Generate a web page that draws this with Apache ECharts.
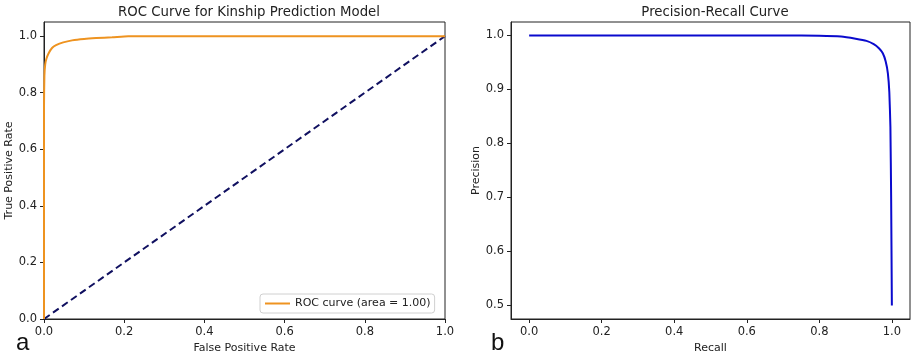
<!DOCTYPE html>
<html>
<head>
<meta charset="utf-8">
<script src="https://cdn.jsdelivr.net/npm/echarts@6/dist/echarts.min.js"></script>
<style>
  html, body { margin: 0; padding: 0; background: #fff; }
  #chart { width: 913px; height: 355px; }
</style>
</head>
<body>
<div id="chart"></div>
<script>
// ROC curve (left panel)
const rocFpr = [0, 0, 0.001, 0.003, 0.006, 0.011, 0.02, 0.03, 0.048, 0.07, 0.1, 0.13, 0.17, 0.21, 1]
const rocTpr = [0, 0.75, 0.86, 0.9, 0.92, 0.938, 0.958, 0.968, 0.978, 0.985, 0.99, 0.993, 0.996, 1, 1]
const chanceLine = [[0, 0], [1, 1]]
const rocTicksX = [0, 0.2, 0.4, 0.6, 0.8, 1.0]
const rocTicksY = [0, 0.2, 0.4, 0.6, 0.8, 1.0]

// precision-recall curve (right panel)
const prRecall = [0, 0.5, 0.7, 0.8, 0.86, 0.9, 0.93, 0.95, 0.965, 0.975, 0.983, 0.989, 0.993, 0.996, 0.998, 1.0]
const prPrecision = [1, 1, 1, 0.9995, 0.998, 0.994, 0.99, 0.984, 0.976, 0.967, 0.952, 0.93, 0.895, 0.83, 0.7, 0.5]
const prTicksX = [0, 0.2, 0.4, 0.6, 0.8, 1.0]
const prTicksY = [0.5, 0.6, 0.7, 0.8, 0.9, 1.0]

const font = 'DejaVu Sans'
const fmt1 = v => v.toFixed(1)

const chart = echarts.init(document.getElementById('chart'))

// shared axis styling, matplotlib look
function axisBase (ticks) {
  return {
    type: 'value',
    splitLine: { show: false },
    axisLine: { show: true, onZero: false, lineStyle: { color: '#222', width: 1 } },
    axisTick: { show: true, inside: false, length: 4, customValues: ticks, lineStyle: { color: '#222' } },
    axisLabel: {
      customValues: ticks, formatter: fmt1, margin: 7,
      color: '#222', fontFamily: font, fontSize: 11.5
    },
    nameTextStyle: { color: '#222', fontFamily: font, fontSize: 11 }
  }
}

const option = {
  animation: false,
  backgroundColor: '#fff',
  title: [
    {
      text: 'ROC Curve for Kinship Prediction Model', left: 244, top: 1, textAlign: 'center',
      textStyle: { fontFamily: font, fontSize: 13.3, fontWeight: 'normal', color: '#222' }
    },
    {
      text: 'Precision-Recall Curve', left: 710, top: 1, textAlign: 'center',
      textStyle: { fontFamily: font, fontSize: 13.3, fontWeight: 'normal', color: '#222' }
    },
    {
      text: 'a', left: 11, top: 326,
      textStyle: { fontFamily: 'Liberation Sans', fontSize: 24, fontWeight: 'normal', color: '#111' }
    },
    {
      text: 'b', left: 486, top: 326,
      textStyle: { fontFamily: 'Liberation Sans', fontSize: 24, fontWeight: 'normal', color: '#111' }
    }
  ],
  grid: [
    { left: 44, right: 468, top: 22, bottom: 36, outerBoundsMode: 'none', containLabel: false, show: true, borderColor: '#222', borderWidth: 1, backgroundColor: 'transparent' },
    { left: 511, right: 3, top: 22, bottom: 36, outerBoundsMode: 'none', containLabel: false, show: true, borderColor: '#222', borderWidth: 1, backgroundColor: 'transparent' }
  ],
  xAxis: [
    Object.assign(axisBase(rocTicksX), {
      gridIndex: 0, min: 0, max: 1,
      name: 'False Positive Rate', nameLocation: 'middle', nameGap: 21
    }),
    Object.assign(axisBase(prTicksX), {
      gridIndex: 1, min: -0.05, max: 1.05,
      name: 'Recall', nameLocation: 'middle', nameGap: 21
    })
  ],
  yAxis: [
    Object.assign(axisBase(rocTicksY), {
      gridIndex: 0, min: 0, max: 1.05,
      name: 'True Positive Rate', nameLocation: 'middle', nameGap: 28
    }),
    Object.assign(axisBase(prTicksY), {
      gridIndex: 1, min: 0.475, max: 1.025,
      name: 'Precision', nameLocation: 'middle', nameGap: 29
    })
  ],
  legend: {
    data: [{ name: 'ROC curve (area = 1.00)', icon: 'rect' }],
    left: 260, top: 294,
    itemWidth: 25, itemHeight: 2, itemGap: 8,
    padding: [4, 4, 4, 5],
    borderColor: '#d0d0d0', borderWidth: 1, borderRadius: 3,
    backgroundColor: '#fff',
    textStyle: { fontFamily: font, fontSize: 11, color: '#222' }
  },
  series: [
    {
      name: 'chance',
      type: 'line', xAxisIndex: 0, yAxisIndex: 0,
      data: chanceLine, showSymbol: false, silent: true,
      lineStyle: { color: '#101060', width: 2, type: [7, 4] }
    },
    {
      name: 'ROC curve (area = 1.00)',
      type: 'line', xAxisIndex: 0, yAxisIndex: 0,
      data: rocFpr.map((x, i) => [x, rocTpr[i]]),
      showSymbol: false, smooth: 0.2,
      itemStyle: { color: '#ee9320' },
      lineStyle: { color: '#ee9320', width: 2 }
    },
    {
      name: 'PR',
      type: 'line', xAxisIndex: 1, yAxisIndex: 1,
      data: prRecall.map((x, i) => [x, prPrecision[i]]),
      showSymbol: false, smooth: 0.15,
      lineStyle: { color: '#0a0acd', width: 2 }
    }
  ]
}

chart.setOption(option)
</script>
</body>
</html>
